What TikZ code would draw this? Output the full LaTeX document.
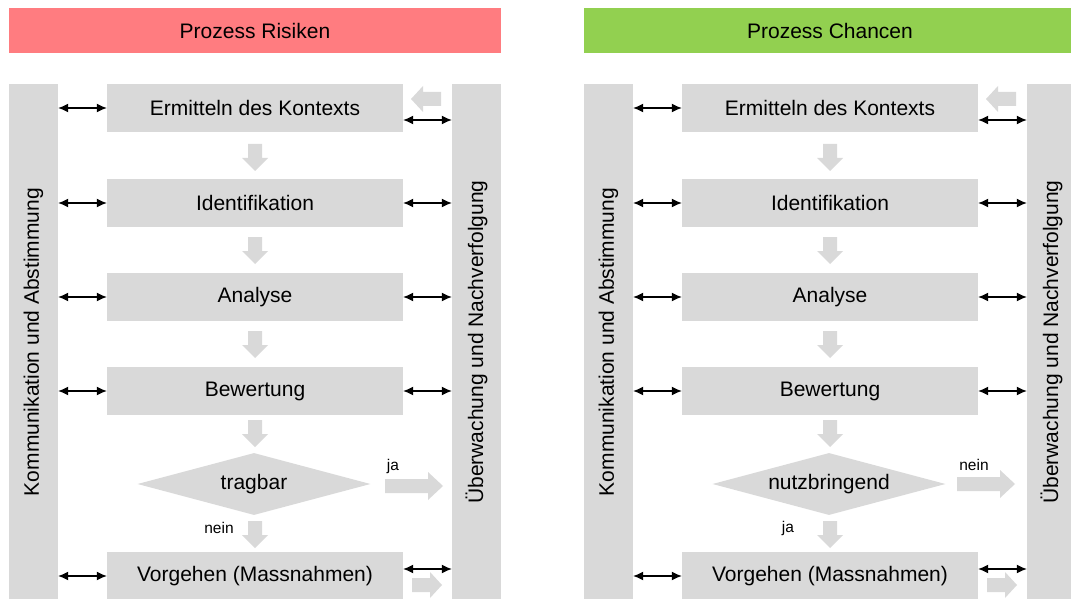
\documentclass[tikz,border=0pt]{standalone}
\usepackage{fontspec}
\setmainfont{Liberation Sans}
\usepackage{graphicx}
\usetikzlibrary{shapes.geometric,arrows.meta}

\definecolor{risk}{HTML}{FF7C80}
\definecolor{chance}{HTML}{92D050}
\definecolor{boxgray}{HTML}{D9D9D9}

\begin{document}
\begin{tikzpicture}[
            x=1pt, y=-1pt,
            every node/.style={color=black, inner sep=0pt, font=\fontsize{21}{25}\selectfont},
            header/.style={minimum width=492pt, minimum height=45pt},
            bar/.style={fill=boxgray, minimum width=49pt, minimum height=516pt},
            stage/.style={fill=boxgray, minimum width=296pt, minimum height=48pt},
            decision/.style={diamond, fill=boxgray, minimum width=233pt, minimum height=62pt},
            small/.style={font=\fontsize{15.5}{18}\selectfont},
            link/.style={line width=1.2pt, {Latex[length=10pt,width=9pt]}-{Latex[length=10pt,width=9pt]}},
            flow/.style={fill=boxgray}
            ]

            \useasboundingbox (0,0) rectangle (1071,599);
            \clip (0,0) rectangle (1071,599);

            % Prozess Risiken
            \node[header, fill=risk] (rhead) at (255,30.5) {Prozess Risiken};
            \node[bar] (rkomm) at (33.5,342) {\rotatebox{90}{Kommunikation und Abstimmung}};
            \node[bar] (rueb) at (476.5,342) {\rotatebox{90}{Überwachung und Nachverfolgung}};

            \node[stage] (rerm) at (255,108) {Ermitteln des Kontexts};
            \node[stage] (rident) at (255,203) {Identifikation};
            \node[stage] (rana) at (255,297) {Analyse};
            \node[stage] (rbew) at (255,391) {Bewertung};
            \node[decision, label=center:tragbar] (rdec) at (254,484) {};
            \node[stage] (rvor) at (255,576) {Vorgehen (Massnahmen)};
            \node[small] (rja) at (393,466) {ja};
            \node[small] (rnein) at (219,528) {nein};

            % flow arrows
            \foreach \y in {144,237,331,420,521}
                \fill[flow] (248,\y) -- ++(14,0) -- ++(0,14) -- ++(6,0) -- ++(-13,13) -- ++(-13,-13) -- ++(6,0) -- cycle;
            \fill[flow] (385,479) -- ++(43,0) -- ++(0,-7) -- ++(15,14) -- ++(-15,14) -- ++(0,-7) -- ++(-43,0) -- cycle;
            \fill[flow] (441,92) -- ++(-18,0) -- ++(0,-6) -- ++(-12,13) -- ++(12,13) -- ++(0,-6) -- ++(18,0) -- cycle;
            \fill[flow] (412,578) -- ++(18,0) -- ++(0,-6) -- ++(12,13) -- ++(-12,13) -- ++(0,-6) -- ++(-18,0) -- cycle;

            % links
            \foreach \n in {rerm,rident,rana,rbew,rvor}
                \draw[link] (rkomm.east |- \n) -- (\n);
            \foreach \n in {rident,rana,rbew}
                \draw[link] (\n) -- (rueb.west |- \n);
            \coordinate (rermo) at ([yshift=-12pt]rerm.east);
            \coordinate (rvoro) at ([yshift=7pt]rvor.east);
            \draw[link] (rermo) -- (rermo -| rueb.west);
            \draw[link] (rvoro) -- (rvoro -| rueb.west);

            % Prozess Chancen
            \begin{scope}[xshift=575pt]
            \node[header, fill=chance] (chead) at (255,30.5) {Prozess Chancen};
            \node[bar] (ckomm) at (33.5,342) {\rotatebox{90}{Kommunikation und Abstimmung}};
            \node[bar] (cueb) at (476.5,342) {\rotatebox{90}{Überwachung und Nachverfolgung}};

            \node[stage] (cerm) at (255,108) {Ermitteln des Kontexts};
            \node[stage] (cident) at (255,203) {Identifikation};
            \node[stage] (cana) at (255,297) {Analyse};
            \node[stage] (cbew) at (255,391) {Bewertung};
            \node[decision, label=center:nutzbringend] (cdec) at (254,484) {};
            \node[stage] (cvor) at (255,576) {Vorgehen (Massnahmen)};
            \node[small] (cnein) at (399,465) {nein};
            \node[small] (cja) at (213,528) {ja};

            % flow arrows
            \foreach \y in {144,237,331,420,521}
                \fill[flow] (248,\y) -- ++(14,0) -- ++(0,14) -- ++(6,0) -- ++(-13,13) -- ++(-13,-13) -- ++(6,0) -- cycle;
            \fill[flow] (382,477) -- ++(43,0) -- ++(0,-7) -- ++(15,14) -- ++(-15,14) -- ++(0,-7) -- ++(-43,0) -- cycle;
            \fill[flow] (441,92) -- ++(-18,0) -- ++(0,-6) -- ++(-12,13) -- ++(12,13) -- ++(0,-6) -- ++(18,0) -- cycle;
            \fill[flow] (412,578) -- ++(18,0) -- ++(0,-6) -- ++(12,13) -- ++(-12,13) -- ++(0,-6) -- ++(-18,0) -- cycle;

            % links
            \foreach \n in {cerm,cident,cana,cbew,cvor}
                \draw[link] (ckomm.east |- \n) -- (\n);
            \foreach \n in {cident,cana,cbew}
                \draw[link] (\n) -- (cueb.west |- \n);
            \coordinate (cermo) at ([yshift=-12pt]cerm.east);
            \coordinate (cvoro) at ([yshift=7pt]cvor.east);
            \draw[link] (cermo) -- (cermo -| cueb.west);
            \draw[link] (cvoro) -- (cvoro -| cueb.west);
            \end{scope}

        \end{tikzpicture}
\end{document}
